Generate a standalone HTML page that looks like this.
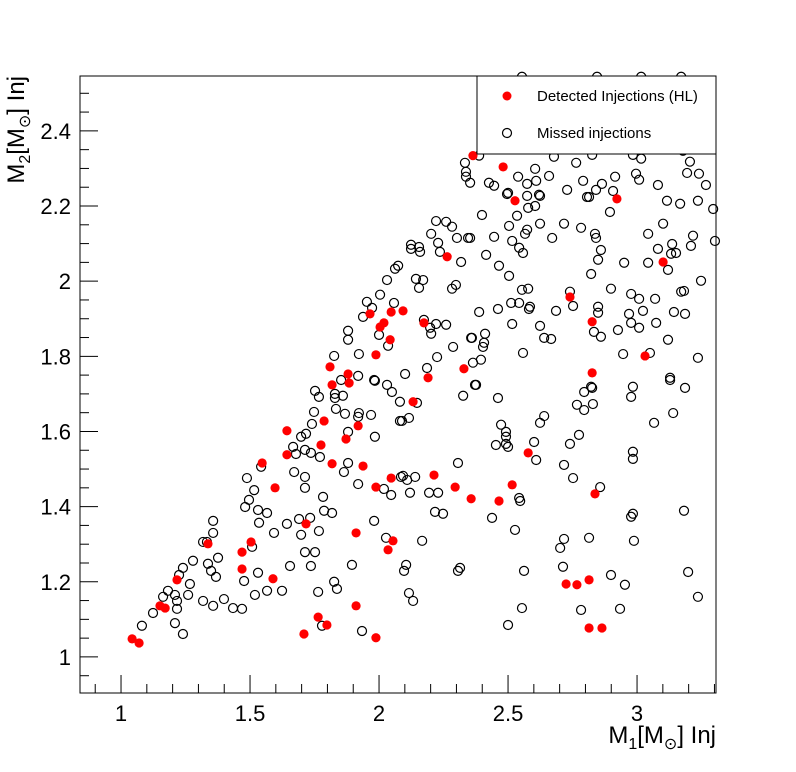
<!DOCTYPE html>
<html><head><meta charset="utf-8"><style>
html,body{margin:0;padding:0;background:#fff;}
svg{display:block;font-family:"Liberation Sans",sans-serif;}
</style></head><body>
<svg id="chart" width="796" height="772" viewBox="0 0 796 772" xmlns="http://www.w3.org/2000/svg">
<rect x="0" y="0" width="796" height="772" fill="#fff"/>
<g id="ticks"></g>
<g id="missed"></g>
<g id="detected"></g>
<rect x="80" y="76" width="636" height="617" fill="none" stroke="#000" stroke-width="1"/>
<g id="labels"></g>
<text x="716" y="743" text-anchor="end" font-size="24">M<tspan font-size="16" dy="6">1</tspan><tspan dy="-6">[M</tspan><tspan font-size="16" dy="6">⊙</tspan><tspan dy="-6">] Inj</tspan></text>
<text transform="translate(24,76) rotate(-90)" text-anchor="end" font-size="24">M<tspan font-size="16" dy="6">2</tspan><tspan dy="-6">[M</tspan><tspan font-size="16" dy="6">⊙</tspan><tspan dy="-6">] Inj</tspan></text>
<g>
<rect x="477" y="76" width="239" height="78" fill="#fff" stroke="#000" stroke-width="1"/>
<circle cx="507" cy="96" r="4.5" fill="#f00"/>
<text x="537" y="101" font-size="15">Detected Injections (HL)</text>
<circle cx="507" cy="133" r="4.5" fill="none" stroke="#000" stroke-width="1.2"/>
<text x="537" y="138" font-size="15">Missed injections</text>
</g>
</svg>
<script>
const xTicks = [1, 1.5, 2, 2.5, 3];
const xTickLabels = ["1", "1.5", "2", "2.5", "3"];
const yTicks = [1, 1.2, 1.4, 1.6, 1.8, 2, 2.2, 2.4];
const yTickLabels = ["1", "1.2", "1.4", "1.6", "1.8", "2", "2.2", "2.4"];
const detectedM1 = [1.043,1.070,1.151,1.171,1.217,1.337,1.469,1.469,1.504,1.547,1.589,1.597,1.643,1.643,1.709,1.717,1.764,1.775,1.787,1.798,1.810,1.818,1.818,1.872,1.880,1.884,1.911,1.911,1.919,1.938,1.965,1.988,1.988,1.988,2.004,2.019,2.035,2.043,2.047,2.047,2.054,2.093,2.132,2.174,2.190,2.213,2.264,2.295,2.329,2.357,2.364,2.465,2.481,2.516,2.527,2.578,2.725,2.740,2.767,2.814,2.814,2.826,2.826,2.837,2.864,2.922,3.031,3.101];
const detectedM2 = [1.048,1.037,1.136,1.130,1.205,1.301,1.279,1.234,1.306,1.516,1.208,1.450,1.602,1.538,1.061,1.354,1.106,1.564,1.628,1.085,1.772,1.724,1.514,1.580,1.753,1.729,1.330,1.136,1.615,1.508,1.913,1.804,1.452,1.051,1.878,1.889,1.285,1.844,1.918,1.476,1.309,1.921,1.679,1.889,1.743,1.484,2.065,1.452,1.767,1.421,2.334,1.415,2.304,1.458,2.214,1.543,1.194,1.958,1.192,1.205,1.077,1.892,1.756,1.434,1.077,2.219,1.801,2.051];
const missedM1 = [1.081,1.124,1.163,1.182,1.209,1.217,1.217,1.209,1.240,1.225,1.240,1.267,1.260,1.279,1.318,1.333,1.357,1.357,1.337,1.349,1.368,1.376,1.318,1.357,1.399,1.434,1.469,1.477,1.508,1.531,1.519,1.566,1.624,1.655,1.593,1.535,1.531,1.566,1.481,1.496,1.516,1.488,1.543,1.643,1.690,1.733,1.698,1.713,1.752,1.736,1.767,1.787,1.818,1.783,1.713,1.713,1.671,1.678,1.667,1.713,1.736,1.771,1.698,1.717,1.740,1.748,1.752,1.767,1.829,1.829,1.860,1.833,1.868,1.922,1.919,1.969,1.880,1.984,1.880,1.864,1.919,2.019,2.047,1.981,2.027,1.895,1.826,1.837,1.764,1.779,1.934,2.031,2.050,2.081,2.085,1.984,
2.081,2.147,2.089,2.116,2.326,2.376,2.461,2.473,2.492,2.492,2.453,2.492,2.500,2.601,2.609,2.624,2.640,2.306,2.093,2.109,2.140,2.120,2.194,2.229,2.217,2.248,2.167,2.438,2.527,2.543,2.547,2.105,2.097,2.306,2.314,2.562,2.116,2.132,2.554,2.500,2.717,2.752,2.740,2.775,2.767,2.795,2.795,2.826,2.829,2.857,2.717,2.702,2.814,2.713,2.899,2.953,2.934,2.783,2.984,2.977,3.066,3.140,3.186,3.128,2.984,2.984,2.977,2.984,2.988,3.182,3.198,3.236,
2.388,2.353,2.399,2.353,2.415,2.426,2.446,2.496,2.500,2.539,2.574,2.605,2.609,2.659,2.574,2.578,2.620,2.624,2.605,2.535,2.504,2.446,2.516,2.543,2.558,2.566,2.574,2.624,2.671,2.717,2.783,2.729,2.764,2.791,2.806,2.814,2.841,2.864,2.915,2.907,2.895,2.837,2.841,2.860,2.849,2.950,2.822,2.996,3.008,3.081,3.116,3.167,3.205,3.194,3.240,3.267,3.236,3.295,3.101,3.043,3.081,3.136,3.132,3.151,3.217,3.209,3.302,3.120,3.043,3.248,3.182,3.171,3.143,3.186,3.070,3.023,3.008,2.977,2.969,2.977,3.008,3.074,3.120,3.236,3.128,3.050,2.946,2.926,2.899,2.849,2.849,2.833,2.860,2.752,2.740,2.686,2.624,2.640,2.667,2.578,2.554,2.585,2.581,2.543,2.512,2.461,2.504,2.465,2.516,2.558,2.411,2.407,2.403,2.395,2.364,2.360,2.388,2.372,2.822,2.554,2.845,3.016,3.171,2.678,2.826,2.984,3.016,3.178,
2.221,2.260,2.283,2.202,2.229,2.302,2.345,2.124,2.155,2.124,2.159,2.236,2.318,2.062,2.074,2.031,2.143,2.171,2.155,2.283,2.298,2.004,1.953,1.973,1.938,2.058,2.174,2.198,2.202,2.221,2.260,1.880,1.880,2.000,2.035,2.357,2.287,1.826,1.922,2.225,2.186,2.101,1.919,1.853,1.981,2.337,2.337,2.333];
const missedM2 = [1.083,1.117,1.160,1.176,1.165,1.149,1.128,1.090,1.061,1.218,1.237,1.194,1.165,1.256,1.306,1.306,1.330,1.362,1.248,1.229,1.213,1.264,1.149,1.136,1.154,1.130,1.128,1.202,1.293,1.224,1.165,1.176,1.176,1.242,1.330,1.357,1.391,1.383,1.399,1.418,1.444,1.476,1.506,1.354,1.367,1.370,1.325,1.279,1.279,1.242,1.335,1.389,1.383,1.426,1.450,1.479,1.492,1.540,1.559,1.551,1.543,1.532,1.586,1.594,1.620,1.652,1.708,1.692,1.700,1.689,1.695,1.660,1.647,1.649,1.639,1.644,1.599,1.586,1.516,1.492,1.460,1.447,1.431,1.362,1.317,1.245,1.200,1.181,1.173,1.083,1.069,1.724,1.705,1.628,1.479,1.735,
1.679,1.676,1.628,1.636,1.695,1.724,1.689,1.618,1.599,1.586,1.564,1.567,1.559,1.572,1.524,1.623,1.641,1.516,1.482,1.471,1.479,1.437,1.437,1.437,1.386,1.381,1.309,1.370,1.338,1.423,1.415,1.245,1.229,1.229,1.237,1.229,1.170,1.149,1.130,1.085,1.511,1.476,1.567,1.591,1.671,1.657,1.705,1.716,1.673,1.452,1.314,1.290,1.317,1.240,1.218,1.192,1.128,1.125,1.719,1.692,1.623,1.649,1.716,1.737,1.546,1.527,1.373,1.381,1.309,1.389,1.226,1.160,
2.334,2.262,2.176,2.115,2.070,2.262,2.254,2.232,2.235,2.278,2.259,2.299,2.267,2.280,2.227,2.195,2.230,2.227,2.200,2.174,2.147,2.118,2.107,2.089,2.075,2.126,2.137,2.153,2.115,2.153,2.142,2.243,2.315,2.267,2.224,2.224,2.243,2.259,2.278,2.240,2.184,2.126,2.115,2.083,2.057,2.049,2.019,2.286,2.270,2.256,2.214,2.206,2.318,2.288,2.286,2.256,2.214,2.192,2.153,2.126,2.086,2.099,2.073,2.075,2.121,2.094,2.107,2.030,2.049,2.001,1.974,1.972,1.918,1.913,1.953,1.921,1.953,1.966,1.913,1.889,1.876,1.889,1.844,1.796,1.743,1.809,1.806,1.870,1.980,1.932,1.916,1.865,1.852,1.934,1.972,1.921,1.881,1.849,1.846,1.980,1.977,1.932,1.926,1.942,1.942,1.926,2.014,2.041,1.886,1.809,1.860,1.836,1.825,1.791,1.783,1.849,1.918,1.724,1.719,2.544,2.544,2.544,2.544,2.331,2.336,2.336,2.326,2.347,
2.160,2.158,2.145,2.126,2.102,2.115,2.115,2.097,2.091,2.086,2.078,2.078,2.051,2.033,2.041,2.003,2.006,2.003,1.982,1.980,1.990,1.964,1.945,1.929,1.905,1.942,1.897,1.876,1.860,1.886,1.884,1.868,1.844,1.857,1.828,1.849,1.825,1.801,1.806,1.798,1.769,1.753,1.748,1.737,1.737,2.291,2.278,2.315];

const NS = "http://www.w3.org/2000/svg";
const X0 = 80, X1 = 716, Y0 = 693, Y1 = 76;
const XMIN = 0.841, XMAX = 3.306, YMIN = 0.904, YMAX = 2.546;
function sx(v){ return X0 + (v - XMIN) / (XMAX - XMIN) * (X1 - X0); }
function sy(v){ return Y0 - (v - YMIN) / (YMAX - YMIN) * (Y0 - Y1); }
function mk(tag, attrs, parent){
  const e = document.createElementNS(NS, tag);
  for (const k in attrs) e.setAttribute(k, attrs[k]);
  parent.appendChild(e);
  return e;
}
const gT = document.getElementById('ticks');
const gL = document.getElementById('labels');
for (let i = 9; i <= 33; i++) {
  const v = i / 10;
  const major = (i % 5 === 0);
  const len = major ? 18 : 9;
  const t = mk('line', {x1: sx(v), x2: sx(v), y1: Y0, y2: Y0 - len, stroke: '#000', 'stroke-width': 1}, gT);
  
  
}
for (let i = 19; i <= 50; i++) {
  const v = i / 20;
  if (v < YMIN || v > YMAX) continue;
  const major = (i % 4 === 0);
  const len = major ? 18 : 9;
  const t = mk('line', {x1: X0, x2: X0 + len, y1: sy(v), y2: sy(v), stroke: '#000', 'stroke-width': 1}, gT);
  
  
}
xTicks.forEach((v, i) => {
  const t = mk('text', {x: sx(v), y: 721, 'text-anchor': 'middle', 'font-size': 22}, gL);
  t.textContent = xTickLabels[i];
  
  
});
yTicks.forEach((v, i) => {
  const t = mk('text', {x: 71, y: sy(v) + 8, 'text-anchor': 'end', 'font-size': 22}, gL);
  t.textContent = yTickLabels[i];
  
  
});
const gM = document.getElementById('missed');
missedM1.forEach((v, i) => {
  const c = mk('circle', {cx: sx(v), cy: sy(missedM2[i]), r: 4.5, fill: 'none', stroke: '#000', 'stroke-width': 1.2}, gM);
  
  
});
const gD = document.getElementById('detected');
detectedM1.forEach((v, i) => {
  const c = mk('circle', {cx: sx(v), cy: sy(detectedM2[i]), r: 4.6, fill: '#f00'}, gD);
  
  
});
</script>
</body></html>
